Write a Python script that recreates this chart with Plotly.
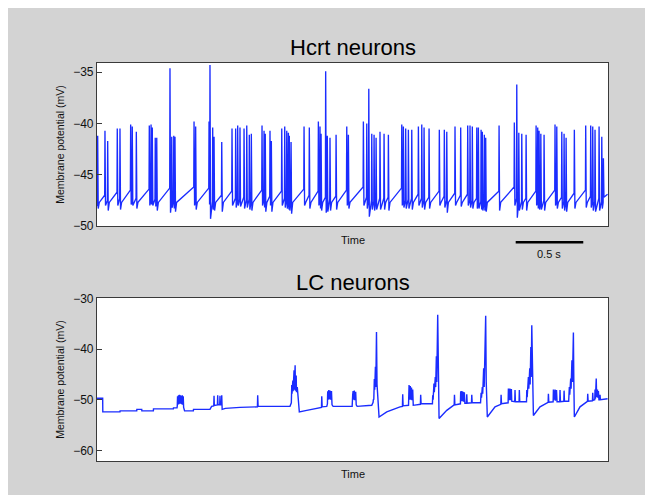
import plotly.graph_objects as go

# ---------------- Hcrt neurons (top) : spike events ----------------
hcrt_t = [5, 59, 79, 150, 170, 249, 261, 291, 387, 400,
          409, 431, 442, 540, 553, 568, 577, 718, 730, 829,
          836, 856, 866, 923, 999, 1026, 1041, 1058, 1088, 1108,
          1127, 1142, 1221, 1236, 1245, 1280, 1290, 1367, 1389, 1404,
          1416, 1423, 1436, 1532, 1571, 1638, 1650, 1658, 1692, 1704,
          1724, 1769, 1848, 1860, 1971, 1996, 2011, 2033, 2050, 2065,
          2094, 2124, 2156, 2255, 2267, 2284, 2304, 2329, 2378, 2403,
          2420, 2457, 2533, 2570, 2588, 2649, 2691, 2743, 2760, 2777,
          2810, 2822, 2842, 2851, 2866, 2876, 2975, 3088, 3106, 3121,
          3143, 3175, 3249, 3261, 3271, 3284, 3308, 3389, 3402, 3439,
          3456, 3471, 3532, 3616, 3653, 3668, 3685, 3715, 3735, 3747]
hcrt_peak = [-41.2, -40.7, -41.7, -40.5, -40.5, -40.1, -40.3, -40.8, -40.2, -40.1,
             -40.4, -41.4, -41.4, -34.6, -41.3, -41.2, -41.3, -39.8, -40.3, -39.8,
             -34.3, -40.4, -41.3, -41.8, -40.5, -40.5, -40.2, -40.4, -40.5, -40.2,
             -41.1, -41.0, -40.2, -40.7, -41.0, -40.7, -41.7, -40.5, -40.3, -40.7,
             -40.9, -41.2, -41.8, -40.3, -40.4, -39.8, -40.3, -41.0, -34.9, -41.2,
             -41.4, -41.1, -40.3, -41.1, -39.8, -40.0, -36.6, -41.0, -41.1, -41.4,
             -40.8, -41.0, -41.1, -40.1, -40.3, -40.5, -40.6, -40.6, -40.3, -40.1,
             -40.4, -40.5, -40.6, -40.6, -40.8, -40.3, -40.4, -40.2, -40.2, -40.3,
             -40.4, -40.4, -40.6, -40.8, -41.1, -41.4, -40.2, -39.9, -36.2, -40.9,
             -41.0, -41.1, -40.2, -40.4, -40.7, -41.0, -41.1, -40.1, -40.3, -40.8,
             -41.0, -41.4, -40.6, -40.2, -40.2, -40.3, -40.6, -40.3, -41.3, -43.4]
hcrt_pre = [-48.0, -47.0, -47.5, -46.7, -47.3, -46.5, -47.6, -47.3, -46.4, -47.5,
            -47.7, -47.4, -47.7, -46.3, -47.6, -47.5, -47.7, -46.2, -47.5, -46.3,
            -47.8, -47.6, -47.8, -47.0, -46.6, -47.3, -47.5, -47.4, -47.2, -47.4,
            -47.4, -47.6, -46.5, -47.5, -47.7, -47.1, -47.7, -46.6, -47.3, -47.5,
            -47.6, -47.8, -47.6, -46.4, -47.0, -46.6, -47.6, -47.8, -47.2, -47.8,
            -47.4, -47.1, -46.5, -47.6, -46.2, -47.2, -47.5, -47.5, -47.6, -47.6,
            -47.3, -47.3, -47.2, -46.3, -47.6, -47.5, -47.4, -47.3, -46.9, -47.3,
            -47.5, -47.2, -46.6, -47.1, -47.5, -46.8, -47.0, -46.9, -47.5, -47.5,
            -47.3, -47.6, -47.6, -47.8, -47.8, -47.9, -46.6, -46.2, -47.3, -47.8,
            -47.6, -47.3, -46.6, -47.6, -47.7, -47.7, -47.5, -46.5, -47.6, -47.2,
            -47.6, -47.7, -46.8, -46.5, -47.1, -47.6, -47.6, -47.3, -47.6, -47.7]
hcrt_trough = [-48.3, -48.0, -48.5, -48.0, -48.4, -47.9, -48.0, -48.3, -48.0, -47.9,
               -48.0, -48.1, -48.5, -48.7, -48.2, -48.3, -48.6, -48.0, -48.4, -47.9,
               -49.3, -48.4, -48.5, -48.6, -48.0, -48.2, -48.0, -48.1, -48.3, -48.2,
               -48.4, -48.5, -48.0, -48.2, -48.6, -48.0, -48.6, -48.0, -48.2, -48.3,
               -48.4, -48.5, -48.8, -48.0, -48.3, -48.0, -48.3, -48.5, -48.7, -48.6,
               -48.5, -48.4, -48.0, -48.3, -48.0, -48.3, -49.1, -48.4, -48.5, -48.4,
               -48.4, -48.4, -48.5, -48.0, -48.2, -48.3, -48.3, -48.4, -48.0, -48.2,
               -48.4, -48.3, -48.0, -48.2, -48.7, -48.0, -48.1, -48.0, -48.2, -48.3,
               -48.3, -48.3, -48.4, -48.5, -48.5, -48.6, -48.5, -48.0, -49.2, -48.5,
               -48.4, -48.5, -48.0, -48.3, -48.4, -48.4, -48.5, -48.0, -48.3, -48.3,
               -48.5, -48.6, -48.3, -48.2, -48.2, -48.5, -48.6, -48.5, -48.3, -47.2]
hcrt_start = (0, -48.0)
hcrt_end = (3778, -46.9)
hcrt_recovery_level = -47.7   # level the trace climbs back to ~12 ms after a spike
hcrt_recovery_ms = 12

# ---------------- LC neurons (bottom) : trace vertices ----------------
lc_t = [0, 42, 43, 170, 171, 294, 295, 331, 332, 417, 418, 565, 566, 592,
        594, 596, 598, 603, 605, 610, 612, 617, 619, 624, 626, 631, 633, 638, 641, 648, 713, 714, 836, 848,
        864, 866, 868, 891, 893, 895, 908, 910, 912, 921, 923, 926, 950, 1058,
        1187, 1189, 1192, 1428,
        1438, 1441, 1443, 1449, 1451, 1458, 1460, 1466, 1468, 1474, 1476, 1482, 1486, 1497, 1552, 1650,
        1661, 1663, 1666, 1700,
        1705, 1707, 1710, 1715, 1718, 1724, 1727, 1735, 1739, 1747, 1888,
        1892, 1895, 1898, 1904, 1907, 1914, 1918, 1925, 2033,
        2043, 2045, 2048, 2052, 2055, 2060, 2063, 2068, 2072, 2087, 2144, 2242,
        2260, 2262, 2265, 2305,
        2309, 2312, 2318, 2321, 2327, 2330, 2336, 2340, 2393, 2395, 2398, 2482,
        2484, 2487, 2493, 2496, 2503, 2506, 2511, 2514, 2521, 2525, 2531, 2588, 2637,
        2643, 2645, 2648, 2689, 2691, 2694, 2700, 2703, 2709, 2712, 2718, 2722, 2734, 2736, 2739,
        2771, 2773, 2776, 2838,
        2842, 2845, 2851, 2854, 2861, 2865, 2876, 2880, 2888, 2945, 2988, 2990, 2993,
        3042, 3044, 3047, 3055, 3058, 3066, 3069, 3091, 3093, 3096, 3123, 3125, 3128, 3178,
        3180, 3183, 3192, 3195, 3202, 3205, 3210, 3213, 3217, 3221, 3229, 3278, 3328,
        3338, 3340, 3343, 3375, 3377, 3380, 3389, 3392, 3400, 3404, 3424, 3426, 3429,
        3454, 3456, 3459, 3490,
        3495, 3498, 3505, 3508, 3514, 3518, 3525, 3528, 3532, 3574, 3624,
        3629, 3631, 3634, 3666, 3668, 3671, 3683, 3685, 3688, 3694, 3697, 3703, 3706, 3710, 3714,
        3720, 3722, 3725, 3778]
lc_v = [-49.7, -49.7, -52.4, -52.4, -52.2, -52.2, -51.9, -51.9, -52.2, -52.2, -51.8, -51.8, -51.6, -51.6,
        -51.2, -49.3, -51.0, -49.1, -50.9, -49.0, -50.8, -49.1, -50.8, -49.2, -50.9, -49.1, -51.0, -49.3, -51.5, -52.2, -52.2, -51.9, -51.9, -51.3,
        -51.2, -49.2, -51.1, -51.0, -49.1, -51.0, -51.0, -49.2, -51.0, -51.0, -49.1, -51.9, -51.7, -51.5,
        -51.4, -49.1, -51.3, -51.3,
        -50.6, -47.1, -48.8, -46.2, -48.3, -44.2, -48.0, -43.2, -48.2, -45.2, -48.5, -47.5, -49.5, -52.4, -52.1, -51.6,
        -51.5, -49.3, -51.4, -51.3,
        -50.8, -48.3, -50.0, -48.1, -49.9, -48.2, -50.0, -48.3, -51.0, -51.3, -51.3,
        -49.0, -48.3, -50.0, -48.2, -50.1, -48.4, -51.0, -51.3, -51.1,
        -50.5, -49.9, -50.0, -45.9, -48.0, -43.5, -47.5, -36.6, -47.0, -53.4, -52.4, -51.4,
        -51.3, -48.9, -51.2, -51.1,
        -47.1, -50.0, -47.3, -50.0, -47.6, -50.1, -48.0, -51.1, -50.9, -49.0, -50.8, -50.8,
        -49.1, -50.0, -46.8, -48.5, -45.5, -47.5, -41.4, -46.5, -33.2, -46.0, -53.7, -52.1, -51.1,
        -51.0, -49.0, -51.0, -50.8, -48.3, -50.3, -48.3, -50.3, -48.4, -50.4, -48.5, -50.7, -50.7, -48.9, -50.7,
        -50.6, -49.0, -50.6, -50.6,
        -48.6, -49.6, -47.5, -48.8, -43.8, -47.5, -33.4, -46.5, -53.4, -51.4, -50.9, -49.0, -50.8,
        -50.6, -47.8, -50.1, -47.8, -50.1, -47.9, -50.3, -50.4, -48.1, -50.4, -50.4, -48.1, -50.4, -50.4,
        -48.1, -49.5, -45.5, -47.8, -43.8, -47.0, -39.6, -45.5, -35.3, -46.0, -53.1, -51.4, -50.6,
        -50.5, -48.8, -50.5, -50.4, -48.0, -50.1, -48.0, -50.2, -48.1, -50.4, -50.4, -48.1, -50.4,
        -50.3, -48.2, -50.3, -50.3,
        -47.5, -49.0, -45.8, -47.8, -42.2, -46.5, -36.7, -46.0, -53.4, -51.4, -50.4,
        -50.3, -48.8, -50.3, -50.2, -48.6, -50.1, -50.0, -48.0, -49.8, -45.8, -49.5, -48.0, -49.6, -48.3, -50.0,
        -50.0, -49.0, -50.0, -49.8]

# axis tick values
top_ticks = [-50, -45, -40, -35]
bottom_ticks = [-60, -50, -40, -30]
scale_bar_ms = [3098, 3598]
scale_bar_label = "0.5 s"

# ---------------- build the Hcrt polyline from the spike events ----------------
hx, hy = [hcrt_start[0]], [hcrt_start[1]]
n = len(hcrt_t)
for i in range(n):
    t, pk, pre, tr = hcrt_t[i], hcrt_peak[i], hcrt_pre[i], hcrt_trough[i]
    hx += [t - 2, t, t + 4]
    hy += [pre, pk, tr]
    nxt_t = hcrt_t[i + 1] if i + 1 < n else hcrt_end[0]
    nxt_pre = hcrt_pre[i + 1] if i + 1 < n else hcrt_end[1]
    if nxt_t - t > 30 and nxt_pre > hcrt_recovery_level and tr < hcrt_recovery_level:
        hx.append(t + hcrt_recovery_ms)
        hy.append(hcrt_recovery_level)
hx.append(hcrt_end[0])
hy.append(hcrt_end[1])

BLUE = "#1a2cff"
GRAY = "#d3d3d3"
AX = "#3a3a3a"
FONT = "Liberation Sans, Arial, Helvetica, sans-serif"

fig = go.Figure()
fig.add_trace(go.Scatter(x=hx, y=hy, mode="lines", xaxis="x", yaxis="y",
                         line=dict(color=BLUE, width=1.35), hoverinfo="skip", showlegend=False))
fig.add_trace(go.Scatter(x=lc_t, y=lc_v, mode="lines", xaxis="x2", yaxis="y2",
                         line=dict(color=BLUE, width=1.4), hoverinfo="skip", showlegend=False))

axis_common = dict(showline=True, linecolor=AX, linewidth=1.2, mirror=True, showgrid=False,
                   zeroline=False)
xcommon = dict(axis_common, range=[0, 3781], showticklabels=False, ticks="")
ycommon = dict(axis_common, ticks="inside", ticklen=5, tickcolor=AX, tickwidth=1,
               tickfont=dict(family=FONT, size=12, color="#111"))

fig.update_layout(
    width=653, height=495,
    margin=dict(l=89, r=53, t=55, b=42),
    paper_bgcolor=GRAY, plot_bgcolor="white",
    font=dict(family=FONT, color="#111"),
    xaxis=dict(xcommon, domain=[0, 1], anchor="y"),
    yaxis=dict(ycommon, domain=[0.5905, 1.0], range=[-50, -34.1], tickvals=top_ticks,
               title=dict(text="Membrane potential (mV)", font=dict(size=10.5), standoff=6)),
    xaxis2=dict(xcommon, domain=[0, 1], anchor="y2"),
    yaxis2=dict(ycommon, domain=[0.0, 0.4095], range=[-62.1, -29.9], tickvals=bottom_ticks,
                title=dict(text="Membrane potential (mV)", font=dict(size=10.5), standoff=6)),
    showlegend=False,
)

# titles and axis labels
fig.add_annotation(text="Hcrt neurons", xref="paper", yref="paper", x=0.5, y=1.040,
                   showarrow=False, font=dict(size=22, family=FONT, color="#000"), yanchor="middle")
fig.add_annotation(text="LC neurons", xref="paper", yref="paper", x=0.5, y=0.4497,
                   showarrow=False, font=dict(size=22, family=FONT, color="#000"), yanchor="middle")
fig.add_annotation(text="Time", xref="paper", yref="paper", x=0.5, y=0.555,
                   showarrow=False, font=dict(size=11, family=FONT, color="#111"), yanchor="middle")
fig.add_annotation(text="Time", xref="paper", yref="paper", x=0.5, y=-0.0327,
                   showarrow=False, font=dict(size=11, family=FONT, color="#111"), yanchor="middle")

# scale bar (in the top panel's time units)
fig.add_shape(type="line", xref="x", yref="paper", x0=scale_bar_ms[0], x1=scale_bar_ms[1],
              y0=0.5495, y1=0.5495, line=dict(color="#000", width=2.5))
fig.add_annotation(text=scale_bar_label, xref="x", yref="paper",
                   x=(scale_bar_ms[0] + scale_bar_ms[1]) / 2, y=0.520, showarrow=False,
                   font=dict(size=11, family=FONT, color="#111"), yanchor="middle")

fig.write_html("out.html")
